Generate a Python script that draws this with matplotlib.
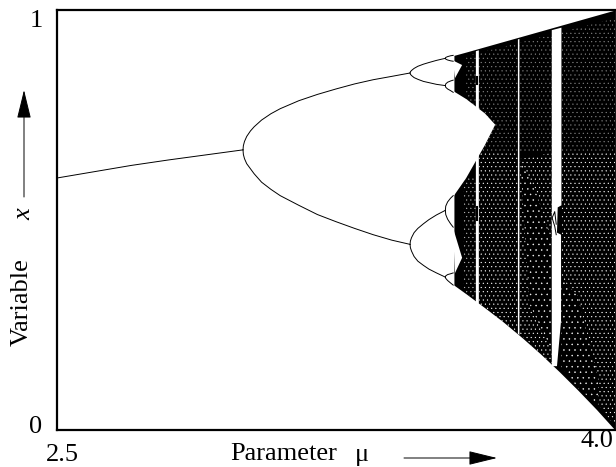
#!/usr/bin/env python
"""Bifurcation diagram redrawn from values read off the picture."""

import matplotlib

matplotlib.use("Agg")
import matplotlib.pyplot as plt

W, H = 616, 467

# single stable branch
stem_mu = [2.5, 2.6, 2.7, 2.8, 2.9, 3.0]
stem_x = [0.600, 0.615, 0.630, 0.643, 0.655, 0.667]

# period 2
p2_mu = [3.0, 3.001, 3.004, 3.01, 3.02, 3.03, 3.05, 3.075, 3.1, 3.15, 3.2, 3.25, 3.3, 3.35, 3.4, 3.449]
p2_upper = [0.667, 0.677, 0.687, 0.699, 0.712, 0.722, 0.738, 0.753, 0.765, 0.784, 0.799, 0.812, 0.824, 0.834, 0.842, 0.850]
p2_lower = [0.667, 0.656, 0.646, 0.634, 0.622, 0.610, 0.590, 0.573, 0.558, 0.535, 0.513, 0.496, 0.480, 0.465, 0.452, 0.442]

# period 4
p4_mu = [3.449, 3.450, 3.453, 3.46, 3.47, 3.485, 3.5, 3.52, 3.544]
p4_a = [0.850, 0.853, 0.856, 0.861, 0.866, 0.871, 0.875, 0.880, 0.885]
p4_b = [0.850, 0.847, 0.844, 0.839, 0.835, 0.830, 0.827, 0.823, 0.820]
p4_c = [0.442, 0.450, 0.458, 0.470, 0.480, 0.491, 0.501, 0.512, 0.523]
p4_d = [0.442, 0.434, 0.426, 0.413, 0.402, 0.392, 0.383, 0.374, 0.364]

# period 8 loops just before the black band
p8_mu = [3.544, 3.545, 3.55, 3.558, 3.565]
p8_a = [0.885, 0.887, 0.889, 0.891, 0.892]
p8_b = [0.885, 0.883, 0.881, 0.879, 0.878]
p8_c = [0.820, 0.824, 0.828, 0.831, 0.833]
p8_d = [0.820, 0.816, 0.812, 0.808, 0.804]
p8_e = [0.523, 0.533, 0.543, 0.552, 0.558]
p8_f = [0.523, 0.513, 0.502, 0.491, 0.483]
p8_g = [0.364, 0.367, 0.370, 0.372, 0.374]
p8_h = [0.364, 0.361, 0.356, 0.350, 0.345]

# chaotic band envelope
band_mu = [3.567, 3.6, 3.65, 3.7, 3.75, 3.8, 3.85, 3.9, 3.95, 4.0]
band_top = [0.892, 0.900, 0.9125, 0.925, 0.9375, 0.950, 0.9625, 0.975, 0.9875, 1.0]
band_bottom = [0.345, 0.324, 0.291, 0.257, 0.220, 0.181, 0.139, 0.095, 0.049, 0.0]

# white wedges inside the band
gap_mu = [3.567, 3.6, 3.65, 3.678, 3.65, 3.6, 3.567]
gap_x = [0.806, 0.788, 0.754, 0.727, 0.678, 0.600, 0.558]
upper_gap_mu = [3.564, 3.589, 3.570]
upper_gap_x = [0.880, 0.869, 0.838]
lower_gap_mu = [3.564, 3.589, 3.570]
lower_gap_x = [0.483, 0.410, 0.374]

# white periodic windows
win3_mu = [3.830, 3.856, 3.856, 3.846, 3.844, 3.855, 3.855, 3.844, 3.830]
win3_x = [0.952, 0.958, 0.535, 0.530, 0.470, 0.465, 0.260, 0.152, 0.152]
win_a_mu = [3.626, 3.634, 3.634, 3.626]
win_a_x = [0.902, 0.904, 0.300, 0.304]
win_b_mu = [3.739, 3.743, 3.743, 3.739]
win_b_x = [0.930, 0.931, 0.226, 0.229]

# small marks left inside the windows
win3_fork_mu = [3.831, 3.838, 3.842]
win3_fork_a = [0.505, 0.485, 0.465]
win3_fork_b = [0.505, 0.520, 0.490]
win_a_blob_mu = [3.629, 3.629]
win_a_blob_x = [0.530, 0.500]
win_a_top_mu = [3.629, 3.629]
win_a_top_x = [0.840, 0.825]

# speckle regions, none overlapping
top_mu = [3.60, 4.0, 4.0, 3.60]
top_x = [0.89, 0.98, 0.66, 0.66]
left_mu = [3.592, 3.626, 3.626, 3.592]
left_x = [0.60, 0.60, 0.31, 0.33]
mid_a_mu = [3.634, 3.739, 3.739, 3.634]
mid_a_x = [0.66, 0.66, 0.23, 0.30]
mid_b_mu = [3.743, 3.745, 3.77, 3.743]
mid_b_x = [0.66, 0.645, 0.30, 0.23]
mid_c_mu = [3.745, 3.83, 3.83, 3.79]
mid_c_x = [0.645, 0.66, 0.45, 0.56]
mid_d_mu = [3.77, 3.83, 3.83, 3.743]
mid_d_x = [0.30, 0.19, 0.155, 0.23]
light_mu = [3.745, 3.79, 3.83, 3.83, 3.77]
light_x = [0.645, 0.56, 0.45, 0.19, 0.30]
right_mu = [3.856, 4.0, 4.0, 3.955, 3.955, 3.90, 3.856]
right_x = [0.66, 0.66, 0.01, 0.06, 0.12, 0.32, 0.36]
bright_mu = [3.856, 3.90, 3.955, 3.955, 3.90, 3.856]
bright_x = [0.36, 0.32, 0.12, 0.06, 0.10, 0.15]

plt.rcParams["font.family"] = ["Liberation Serif", "DejaVu Serif"]
plt.rcParams["hatch.linewidth"] = 0.3

fig = plt.figure(figsize=(W / 100, H / 100), dpi=100, facecolor="white")
ax = fig.add_axes([57 / W, (H - 430) / H, 558 / W, 420 / H])
ax.set_xlim(2.5, 4.0)
ax.set_ylim(0, 1)
ax.set_xticks([])
ax.set_yticks([])
for side in ax.spines.values():
    side.set_linewidth(1.6)
ax.spines["right"].set_linewidth(0.6)

# black band, then speckle, then the white cuts
ax.fill_between(band_mu, band_bottom, band_top, color="black", linewidth=0, zorder=1)
for mu_vals, x_vals, colour, dots in [
    (top_mu, top_x, "#888888", "...."),
    (left_mu, left_x, "#bbbbbb", "...."),
    (mid_a_mu, mid_a_x, "#ffffff", "...."),
    (mid_b_mu, mid_b_x, "#ffffff", "...."),
    (mid_c_mu, mid_c_x, "#ffffff", "...."),
    (mid_d_mu, mid_d_x, "#ffffff", "...."),
    (light_mu, light_x, "#ffffff", "..."),
    (right_mu, right_x, "#ffffff", "...."),
    (bright_mu, bright_x, "#ffffff", "..."),
]:
    ax.fill(mu_vals, x_vals, facecolor="none", edgecolor=colour, hatch=dots, linewidth=0, zorder=2)
for mu_vals, x_vals in [
    (gap_mu, gap_x),
    (upper_gap_mu, upper_gap_x),
    (lower_gap_mu, lower_gap_x),
    (win3_mu, win3_x),
    (win_a_mu, win_a_x),
    (win_b_mu, win_b_x),
]:
    ax.fill(mu_vals, x_vals, color="white", linewidth=0, zorder=3)

line = dict(color="black", linewidth=0.7, zorder=4)
ax.plot(stem_mu, stem_x, **line)
for branch in (p2_upper, p2_lower):
    ax.plot(p2_mu, branch, **line)
for branch in (p4_a, p4_b, p4_c, p4_d):
    ax.plot(p4_mu, branch, **line)
for branch in (p8_a, p8_b, p8_c, p8_d, p8_e, p8_f, p8_g, p8_h):
    ax.plot(p8_mu, branch, **line)
ax.plot(win3_fork_mu, win3_fork_a, **line)
ax.plot(win3_fork_mu, win3_fork_b, **line)
ax.plot(win_a_blob_mu, win_a_blob_x, color="black", linewidth=1.5, zorder=4)
ax.plot(win_a_top_mu, win_a_top_x, color="black", linewidth=1.5, zorder=4)


def label(px, py, text, **kw):
    fig.text(px / W, 1 - py / H, text, fontsize=19, ha="center", va="center", **kw)


label(36, 21, "1")
label(36, 427, "0")
label(62, 455, "2.5")
label(597, 441, "4.0")
label(284, 454, "Parameter")
label(362, 455, "\u03bc")
label(22, 302, "Variable", rotation=90)
label(24, 214, "x", rotation=90, style="italic")

arrow = dict(
    xycoords="figure pixels",
    textcoords="figure pixels",
    arrowprops=dict(arrowstyle="-|>,head_length=0.9,head_width=0.22", color="black", lw=0.7,
                    mutation_scale=20, shrinkA=0, shrinkB=0),
)
ax.annotate("", xy=(497, H - 458), xytext=(404, H - 458), **arrow)
ax.annotate("", xy=(24, H - 90), xytext=(24, H - 197), **arrow)

fig.savefig("out.png", dpi=100)
